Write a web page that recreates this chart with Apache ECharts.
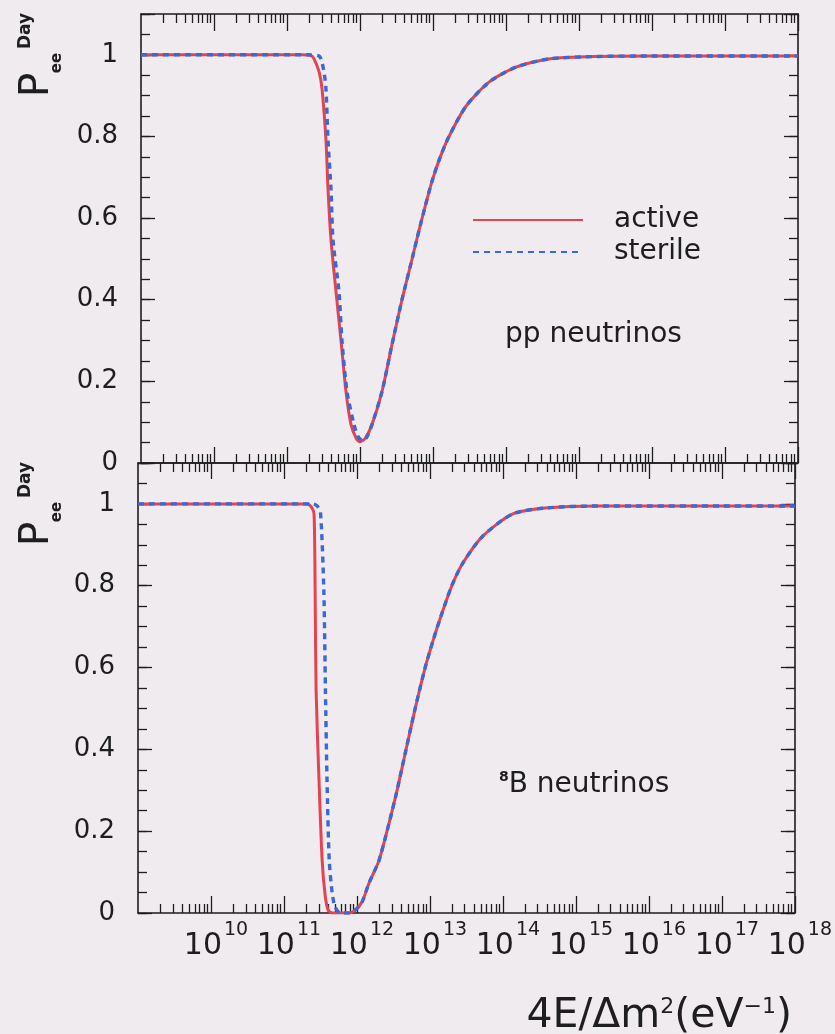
<!DOCTYPE html>
<html>
<head>
<meta charset="utf-8">
<script src="https://cdn.jsdelivr.net/npm/echarts@6/dist/echarts.min.js"></script>
<style>
  html, body { margin: 0; padding: 0; background: #efebee; }
  #chart { width: 835px; height: 1034px; }
</style>
</head>
<body>
<div id="chart"></div>
<script>
// x values are log10 of 4E/Δm² (eV^-1); y values are the day-time survival probability P_ee.

// pp neutrinos
const ppActiveLogX = [9, 11.2, 11.33, 11.37, 11.44, 11.48, 11.534, 11.562, 11.603, 11.671, 11.74, 11.808, 11.877, 11.95, 12.0, 12.07, 12.164, 12.301, 12.438, 12.575, 12.70, 12.781, 12.88, 12.986, 13.1, 13.219, 13.452, 13.767, 14.137, 14.589, 15.27, 16, 17, 18];
const ppActiveP    = [1.0, 1.0, 0.998, 0.99, 0.958, 0.916, 0.79, 0.67, 0.546, 0.42, 0.30, 0.175, 0.094, 0.060, 0.052, 0.060, 0.094, 0.175, 0.29, 0.40, 0.49, 0.55, 0.62, 0.69, 0.75, 0.80, 0.874, 0.933, 0.970, 0.990, 0.996, 0.997, 0.997, 0.997];

const ppSterileLogX = [9, 11.3, 11.43, 11.466, 11.507, 11.534, 11.562, 11.603, 11.63, 11.712, 11.753, 11.822, 11.918, 11.97, 12.03, 12.09, 12.164, 12.301, 12.438, 12.575, 12.70, 12.781, 12.88, 12.986, 13.1, 13.219, 13.452, 13.767, 14.137, 14.589, 15.27, 16, 17, 18];
const ppSterileP    = [1.0, 1.0, 0.998, 0.99, 0.958, 0.916, 0.79, 0.67, 0.546, 0.42, 0.30, 0.175, 0.094, 0.066, 0.055, 0.062, 0.094, 0.175, 0.29, 0.40, 0.49, 0.55, 0.62, 0.69, 0.75, 0.80, 0.874, 0.933, 0.970, 0.990, 0.996, 0.997, 0.997, 0.997];

// 8B neutrinos
const b8ActiveLogX = [9, 11.317, 11.385, 11.413, 11.427, 11.44, 11.48, 11.523, 11.564, 11.605, 11.66, 11.893, 11.975, 12.07, 12.167, 12.305, 12.524, 12.661, 12.798, 12.935, 13.05, 13.169, 13.3, 13.443, 13.717, 14.129, 14.58, 15.3, 16, 17, 18];
const b8ActiveP    = [1.0, 1.0, 0.99, 0.973, 0.79, 0.547, 0.326, 0.13, 0.044, 0.007, 0.0, 0.0, 0.007, 0.027, 0.074, 0.13, 0.28, 0.39, 0.50, 0.60, 0.67, 0.735, 0.80, 0.853, 0.92, 0.975, 0.99, 0.995, 0.995, 0.995, 0.995];

const b8SterileLogX = [9, 11.4, 11.454, 11.5, 11.546, 11.568, 11.59, 11.62, 11.66, 11.70, 11.77, 11.893, 11.975, 12.07, 12.167, 12.305, 12.524, 12.661, 12.798, 12.935, 13.05, 13.169, 13.3, 13.443, 13.717, 14.129, 14.58, 15.3, 16, 17, 18];
const b8SterileP    = [1.0, 1.0, 0.995, 0.98, 0.79, 0.547, 0.326, 0.13, 0.05, 0.015, 0.0, 0.0, 0.007, 0.027, 0.074, 0.13, 0.28, 0.39, 0.50, 0.60, 0.67, 0.735, 0.80, 0.853, 0.92, 0.975, 0.99, 0.995, 0.995, 0.995, 0.995];

// axis ticks
const decadeExponents = [9, 10, 11, 12, 13, 14, 15, 16, 17, 18];
const labelExponents = [10, 11, 12, 13, 14, 15, 16, 17, 18];
const minorMultipliers = [2, 3, 4, 5, 6, 7, 8, 9];
const yMajorStep = 0.2;
const yMinorStep = 0.05;
const yMax = 1.1;

const seriesNames = ['active', 'sterile'];
const panelTitles = ['pp neutrinos', '{sup|8}{t|B neutrinos}'];

const INK = '#1e1e1e';
const RED = '#e4434f';
const BLUE = '#3a68d4';
const FONT = 'DejaVu Sans';

const toPoints = (lx, p) => lx.map((e, i) => [Math.pow(10, e), p[i]]);
// a hair inside the decade so the end value survives the extent check after the log round trip
const decadeValue = e => Math.pow(10, e - 1e-9);
const majorX = decadeExponents.map(decadeValue);
const labelX = labelExponents.map(decadeValue);
const minorX = [];
decadeExponents.slice(0, -1).forEach(e => minorMultipliers.forEach(m => minorX.push(m * Math.pow(10, e))));

const grids = [
  { left: 141, right: 37, top: 14, height: 449 },
  { left: 138, right: 39, top: 463, height: 450 }
];

function xAxisDef(gridIndex, position, ticks, length, showLine, label) {
  return {
    type: 'log', logBase: 10, min: 1e9, max: 1e18,
    gridIndex, position,
    axisLine: { show: showLine, onZero: false, lineStyle: { color: INK, width: 1.6 } },
    axisTick: { show: true, inside: true, length, customValues: ticks, lineStyle: { color: INK, width: 1.3 } },
    axisLabel: label || { show: false },
    splitLine: { show: false },
    minorTick: { show: false }
  };
}

const xLabel = {
  show: true,
  customValues: labelX,
  showMinLabel: true,
  showMaxLabel: true,
  hideOverlap: false,
  margin: 8,
  padding: [0, 0, 0, 10],
  formatter: v => '{b|10}{s|' + Math.round(Math.log10(v)) + '}',
  rich: {
    b: { fontFamily: FONT, fontSize: 30, lineHeight: 50, color: INK },
    s: { fontFamily: FONT, fontSize: 19, lineHeight: 19, verticalAlign: 'top', color: INK, padding: [0, 0, 0, 2] }
  }
};

const xAxes = [
  xAxisDef(0, 'bottom', majorX, 16, true),
  xAxisDef(0, 'bottom', minorX, 9, false),
  xAxisDef(0, 'top', majorX, 17, true),
  xAxisDef(0, 'top', minorX, 9, false),
  xAxisDef(1, 'top', majorX, 16, true),
  xAxisDef(1, 'top', minorX, 9, false),
  xAxisDef(1, 'bottom', majorX, 17, true, xLabel),
  xAxisDef(1, 'bottom', minorX, 9, false)
];

function yAxisDef(gridIndex, position, interval, length, showLine, showLabel) {
  return {
    type: 'value', min: 0, max: yMax, interval,
    gridIndex, position,
    axisLine: { show: showLine, onZero: false, lineStyle: { color: INK, width: 1.6 } },
    axisTick: { show: true, inside: true, length, lineStyle: { color: INK, width: 1.3 } },
    axisLabel: showLabel ? {
      show: true, margin: 23, fontFamily: FONT, fontSize: 26, color: INK,
      formatter: v => (v > 1.0001 ? '' : (v === 0 ? '0' : (Math.abs(v - 1) < 1e-6 ? '1' : v.toFixed(1))))
    } : { show: false },
    splitLine: { show: false }
  };
}

const yAxes = [];
[0, 1].forEach(g => {
  yAxes.push(yAxisDef(g, 'left', yMajorStep, 14, true, true));
  yAxes.push(yAxisDef(g, 'left', yMinorStep, 9, false, false));
  yAxes.push(yAxisDef(g, 'right', yMajorStep, 14, true, false));
  yAxes.push(yAxisDef(g, 'right', yMinorStep, 9, false, false));
});

function lineSeries(name, data, xIdx, yIdx, color, dashed, z) {
  return {
    type: 'line', name, data, xAxisIndex: xIdx, yAxisIndex: yIdx,
    symbol: 'none', showSymbol: false,
    smooth: 0.25,
    z,
    lineStyle: { color, width: dashed ? 3.4 : 3, type: dashed ? [6, 5] : 'solid' },
    itemStyle: { color }
  };
}

const series = [
  lineSeries(seriesNames[0], toPoints(ppActiveLogX, ppActiveP), 0, 0, RED, false, 2),
  lineSeries(seriesNames[1], toPoints(ppSterileLogX, ppSterileP), 0, 0, BLUE, true, 3),
  lineSeries(seriesNames[0], toPoints(b8ActiveLogX, b8ActiveP), 6, 4, RED, false, 2),
  lineSeries(seriesNames[1], toPoints(b8SterileLogX, b8SterileP), 6, 4, BLUE, true, 3)
];

function yTitle(dy) {
  const t = (text, x, y, size, weight) => ({
    type: 'text', x, y: y + dy, rotation: Math.PI / 2,
    style: {
      text, fontFamily: FONT, fontSize: size, fontWeight: weight, fill: INK,
      align: 'center', verticalAlign: 'middle', textAlign: 'center', textVerticalAlign: 'middle'
    }
  });
  return [
    t('P', 37, 85, 41, 'normal'),
    t('ee', 57, 63, 15, 'bold'),
    t('Day', 26, 31, 17, 'bold')
  ];
}

const graphics = [
  ...yTitle(0),
  ...yTitle(449),
  {
    type: 'text', x: 505, y: 335,
    style: { text: panelTitles[0], fontFamily: FONT, fontSize: 28, fill: INK,
      align: 'left', verticalAlign: 'middle', textAlign: 'left', textVerticalAlign: 'middle' }
  },
  {
    type: 'text', x: 499, y: 785,
    style: {
      text: panelTitles[1], fill: INK,
      align: 'left', verticalAlign: 'middle', textAlign: 'left', textVerticalAlign: 'middle',
      rich: {
        sup: { fontFamily: FONT, fontSize: 14, fontWeight: 'bold', lineHeight: 30, verticalAlign: 'top', fill: INK },
        t: { fontFamily: FONT, fontSize: 28, lineHeight: 30, fill: INK }
      }
    }
  },
  {
    type: 'text', x: 792, y: 1016,
    style: {
      text: '{b|4E/Δm}{s|2}{b|(eV}{s|−1}{b|)}', fill: INK,
      align: 'right', verticalAlign: 'middle', textAlign: 'right', textVerticalAlign: 'middle',
      rich: {
        b: { fontFamily: FONT, fontSize: 41, lineHeight: 46, fill: INK },
        s: { fontFamily: FONT, fontSize: 22, lineHeight: 46, verticalAlign: 'top', fill: INK, padding: [3, 0, 0, 0] }
      }
    }
  }
];

const chart = echarts.init(document.getElementById('chart'), null, { renderer: 'canvas' });
chart.setOption({
  animation: false,
  backgroundColor: '#efebee',
  grid: grids,
  xAxis: xAxes,
  yAxis: yAxes,
  legend: {
    orient: 'vertical', left: 467, top: 201,
    itemWidth: 110, itemHeight: 14, itemGap: 4,
    data: seriesNames,
    itemStyle: { opacity: 0 },
    textStyle: { fontFamily: FONT, fontSize: 28, lineHeight: 28, color: INK, padding: [0, 0, 0, 26] }
  },
  series,
  graphic: graphics
});
</script>
</body>
</html>
